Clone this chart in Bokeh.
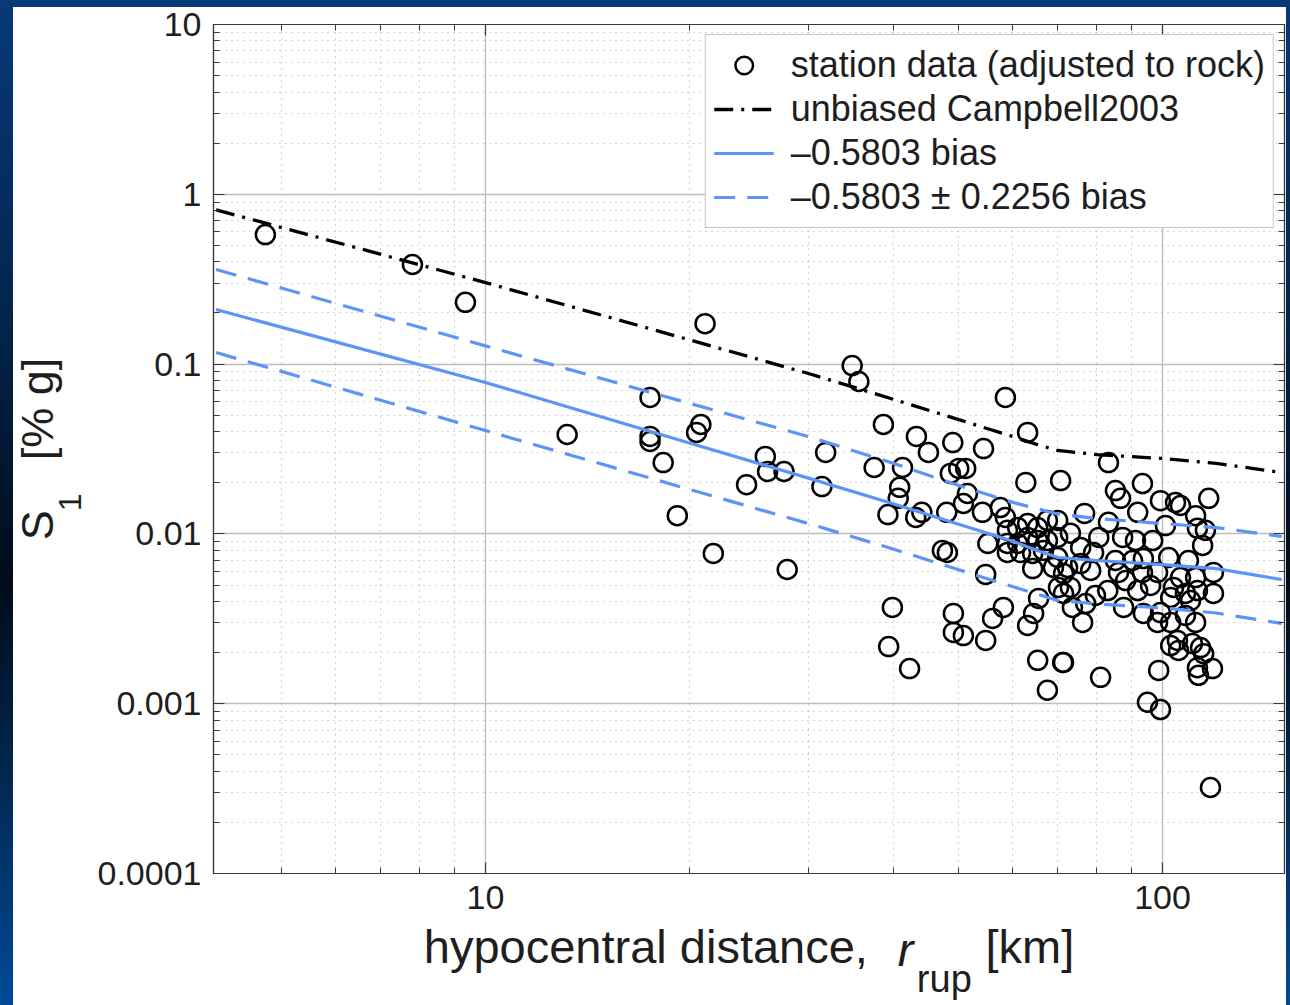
from bokeh.plotting import figure
from bokeh.models import (Range1d, FixedTicker, LogAxis, CustomJSTickFormatter,
                          Legend, LegendItem)
from bokeh.layouts import column
from bokeh.embed import file_html
from bokeh.resources import INLINE

# ---------------- data ----------------
distance_km = [
    4.73, 7.80, 9.34, 21.1, 34.8, 35.6, 58.6, 13.2, 17.5, 17.5, 17.5, 18.3, 19.2, 20.5, 20.8, 21.7,
    24.3, 25.9, 26.1, 27.6, 27.9, 31.8, 31.4, 38.7, 43.3, 45.1, 49.0, 54.4, 37.5, 41.3, 40.9, 40.7,
    39.3, 43.2, 44.1, 63.2, 48.6, 50.0, 51.2, 51.5, 50.8, 48.0, 54.2, 57.6, 58.6, 62.8, 70.7, 55.2,
    47.3, 48.1, 39.9, 39.4, 42.3, 49.1, 49.1, 50.8, 56.1, 58.2, 54.8, 54.8, 63.2, 64.5, 65.6, 65.4,
    71.2, 67.6, 59.0, 61.1, 63.2, 65.4, 67.6, 70.0, 59.0, 61.1, 63.2, 65.4, 67.6, 70.0, 59.0, 61.7,
    64.3, 66.7, 70.0, 64.3, 69.0, 71.4, 70.2, 71.4, 83.2, 93.4, 85.2, 86.7, 99.3, 104.5, 106.3, 117.0,
    91.9, 111.9, 112.6, 115.7, 101.0, 83.2, 80.5, 87.3, 91.2, 96.7, 73.1, 75.7, 79.1, 85.2, 90.3, 93.7,
    102.1, 72.4, 75.7, 86.1, 93.4, 98.3, 106.3, 111.9, 118.9, 73.1, 83.0, 91.9, 103.8, 108.1, 112.6, 118.9,
    102.8, 87.6, 93.7, 99.3, 73.6, 77.0, 76.2, 98.3, 102.8, 111.9, 105.2, 102.8, 105.6, 110.7, 113.8, 115.0,
    112.6, 118.5, 113.0, 71.4, 81.0, 98.7, 95.0, 99.3, 117.7, 114.6, 78.3, 88.2, 96.0, 109.2, 79.6, 108.1,
    110.0, 76.7,
]
s1_pct_g = [
    0.579, 0.386, 0.231, 0.173, 0.098, 0.079, 0.0636, 0.0385, 0.0636, 0.0375, 0.0350, 0.0263, 0.0128, 0.0396, 0.0441, 0.00767,
    0.0195, 0.0286, 0.0233, 0.0233, 0.00617, 0.0302, 0.0190, 0.0441, 0.0375, 0.0302, 0.0345, 0.0318, 0.0246, 0.0246, 0.0188, 0.0162,
    0.0130, 0.0125, 0.0134, 0.0396, 0.0227, 0.0243, 0.0243, 0.0173, 0.0151, 0.0134, 0.0134, 0.0143, 0.0125, 0.0201, 0.0206, 0.00878,
    0.00799, 0.00777, 0.00369, 0.00217, 0.00161, 0.00340, 0.00263, 0.00252, 0.00318, 0.00369, 0.00236, 0.00577, 0.00289, 0.00340, 0.00417, 0.00180,
    0.00175, 0.00120, 0.0105, 0.0109, 0.0115, 0.0109, 0.0120, 0.0120, 0.00878, 0.00878, 0.00953, 0.00914, 0.00914, 0.00953, 0.00777, 0.00777,
    0.00767, 0.00799, 0.00726, 0.00625, 0.00634, 0.00584, 0.00484, 0.00446, 0.0263, 0.0198, 0.0180, 0.0162, 0.0157, 0.0153, 0.0147, 0.0162,
    0.0134, 0.0128, 0.0108, 0.0105, 0.0112, 0.0117, 0.00953, 0.00953, 0.00914, 0.00914, 0.0101, 0.00832, 0.00777, 0.00697, 0.00697, 0.00716,
    0.00726, 0.00634, 0.00669, 0.00593, 0.00593, 0.00593, 0.00553, 0.00553, 0.00593, 0.00484, 0.00464, 0.00464, 0.00484, 0.00446, 0.00464, 0.00446,
    0.00422, 0.00369, 0.00340, 0.00344, 0.00369, 0.00389, 0.00301, 0.00301, 0.00301, 0.00301, 0.00236, 0.00220, 0.00206, 0.00226, 0.00214, 0.00197,
    0.00163, 0.00161, 0.00147, 0.00175, 0.00143, 0.00157, 0.00102, 0.000924, 0.000321, 0.00855, 0.00609, 0.00531, 0.00497, 0.00697, 0.00434, 0.00331,
    0.00405, 0.0132,
]

curve_distance_km = [4, 10, 20, 30, 40, 50, 60, 65, 70, 80, 100, 120, 150]
unbiased_campbell2003 = [0.81, 0.302, 0.139, 0.088, 0.0621, 0.0471, 0.0375, 0.0338, 0.031, 0.0293, 0.0278, 0.026, 0.023]
biased_campbell = [0.2097, 0.0779, 0.0343, 0.0213, 0.01504, 0.01139, 0.00908, 0.00804, 0.00726, 0.00697, 0.0066, 0.00625, 0.00539]
biased_campbell_upper = [0.3606, 0.128, 0.0588, 0.0374, 0.0261, 0.0193, 0.01535, 0.01413, 0.0131, 0.01232, 0.0115, 0.0109, 0.00966]
biased_campbell_lower = [0.117, 0.0406, 0.0183, 0.0115, 0.00815, 0.00615, 0.0049, 0.00444, 0.00405, 0.00387, 0.00366, 0.00342, 0.00297]

x_major_ticks = [10, 100]
x_minor_ticks = [5, 6, 7, 8, 9, 20, 30, 40, 50, 60, 70, 80, 90]
y_major_ticks = [0.0001, 0.001, 0.01, 0.1, 1, 10]
y_minor_ticks = [k * 10.0 ** e for e in range(-4, 1) for k in range(2, 10)]

legend_labels = ["station data (adjusted to rock)", "unbiased Campbell2003",
                 "\u20130.5803 bias", "\u20130.5803 \u00b1 0.2256 bias"]

# axis titles: main text, italic symbol, subscripts (non-breaking spaces used for placement)
NB = "\u00a0"
x_title_main = "hypocentral distance," + NB * 9 + "[km]"
x_title_symbol = NB * 24 + "r"
x_title_sub = NB * 37 + "rup"
y_title_main = "S" + NB * 4 + "[% g]"
y_title_sub = "1" + NB * 12

# ---------------- styling ----------------
FONT = "Liberation Sans"
TEXT_COLOR = "#1e1e1e"
AXIS_COLOR = "#3a3a3a"
BLUE = "#5d94f6"

p = figure(width=1286, height=1005, x_axis_type="log", y_axis_type="log",
           x_range=Range1d(3.965, 151.4), y_range=Range1d(1e-4, 10),
           output_backend="svg", toolbar_location=None,
           min_border_left=213, min_border_right=2, min_border_top=24, min_border_bottom=132)
p.title.visible = False
p.background_fill_color = "white"
p.border_fill_alpha = 0.0
# white slide panel starting 13px from the left and 7px from the top
p.styles = {"background": "linear-gradient(#ffffff, #ffffff) 13px 7px / calc(100% - 13px) calc(100% - 7px) no-repeat"}
p.outline_line_color = AXIS_COLOR
p.outline_line_width = 1.2

x_ticker = FixedTicker(ticks=x_major_ticks, minor_ticks=x_minor_ticks)
y_ticker = FixedTicker(ticks=y_major_ticks, minor_ticks=y_minor_ticks)


def style_axis(ax, ticker, labels=True):
    ax.ticker = ticker
    if labels:
        ax.formatter = CustomJSTickFormatter(code="return tick.toString();")
        ax.major_label_text_font = FONT
        ax.major_label_text_font_size = "34px"
        ax.major_label_text_color = TEXT_COLOR
        ax.major_label_standoff = 12
    else:
        ax.formatter = CustomJSTickFormatter(code="return '';")
        ax.major_label_text_font_size = "1px"
        ax.major_label_standoff = 0
    ax.axis_label = None
    ax.major_tick_in = 11
    ax.major_tick_out = 0
    ax.minor_tick_in = 6
    ax.minor_tick_out = 0
    ax.axis_line_color = AXIS_COLOR
    ax.axis_line_width = 1.2
    ax.major_tick_line_color = AXIS_COLOR
    ax.major_tick_line_width = 1.2
    ax.minor_tick_line_color = AXIS_COLOR
    ax.minor_tick_line_width = 1.0


def set_title(ax, text, size, style, standoff):
    ax.axis_label = text
    ax.axis_label_text_font = FONT
    ax.axis_label_text_font_size = size
    ax.axis_label_text_font_style = style
    ax.axis_label_text_color = TEXT_COLOR
    ax.axis_label_standoff = standoff


def title_axis(ticker, text, size, style, standoff):
    ax = LogAxis()
    style_axis(ax, ticker, labels=False)
    ax.axis_line_color = None
    ax.major_tick_line_color = None
    ax.minor_tick_line_color = None
    ax.major_tick_in = 0
    ax.minor_tick_in = 0
    set_title(ax, text, size, style, standoff)
    return ax


style_axis(p.xaxis[0], x_ticker)
style_axis(p.yaxis[0], y_ticker)
set_title(p.xaxis[0], x_title_main, "47px", "normal", 8)
set_title(p.yaxis[0], y_title_main, "45px", "normal", 32)

top_axis = LogAxis()
right_axis = LogAxis()
style_axis(top_axis, x_ticker, labels=False)
style_axis(right_axis, y_ticker, labels=False)
p.add_layout(top_axis, "above")
p.add_layout(right_axis, "right")

p.add_layout(title_axis(x_ticker, x_title_symbol, "47px", "italic", -53), "below")
p.add_layout(title_axis(x_ticker, x_title_sub, "38px", "normal", -21), "below")
p.add_layout(title_axis(y_ticker, y_title_sub, "32px", "normal", -79), "left")

for g, t in ((p.xgrid[0], x_ticker), (p.ygrid[0], y_ticker)):
    g.ticker = t
    g.grid_line_color = "#bdbdbd"
    g.grid_line_width = 1.4
    g.minor_grid_line_color = "#a8a8a8"
    g.minor_grid_line_width = 1.0
    g.minor_grid_line_dash = "1 5"

# ---------------- glyphs ----------------
r_sc = p.scatter(distance_km, s1_pct_g, marker="circle", size=19, fill_color=None,
                 line_color="black", line_width=2.5)
r_camp = p.line(curve_distance_km, unbiased_campbell2003, line_color="black", line_width=3.3,
                line_dash="19 8 3 8")
r_bias = p.line(curve_distance_km, biased_campbell, line_color=BLUE, line_width=3.2)
r_up = p.line(curve_distance_km, biased_campbell_upper, line_color=BLUE, line_width=3.2, line_dash="21 12")
r_lo = p.line(curve_distance_km, biased_campbell_lower, line_color=BLUE, line_width=3.2, line_dash="21 12")

legend = Legend(items=[
    LegendItem(label=legend_labels[0], renderers=[r_sc]),
    LegendItem(label=legend_labels[1], renderers=[r_camp]),
    LegendItem(label=legend_labels[2], renderers=[r_bias]),
    LegendItem(label=legend_labels[3], renderers=[r_up]),
], location="top_right")
legend.label_text_font = FONT
legend.label_text_font_size = "36px"
legend.label_text_color = TEXT_COLOR
legend.label_height = 44
legend.glyph_height = 44
legend.glyph_width = 60
legend.label_standoff = 17
legend.spacing = 0
legend.padding = 8
legend.margin = 10
legend.border_line_color = "#8c8c8c"
legend.border_line_width = 1.2
legend.background_fill_color = "white"
legend.background_fill_alpha = 1.0
p.add_layout(legend)

p.margin = (0, 4, 0, 0)
page = column(p, width=1290, height=1005,
              styles={"background": "linear-gradient(to bottom, #063a78 0%, #03264f 30%, #000c1a 58%, #022c58 80%, #004a98 100%)"})

open("out.html", "w").write(file_html(page, INLINE))
